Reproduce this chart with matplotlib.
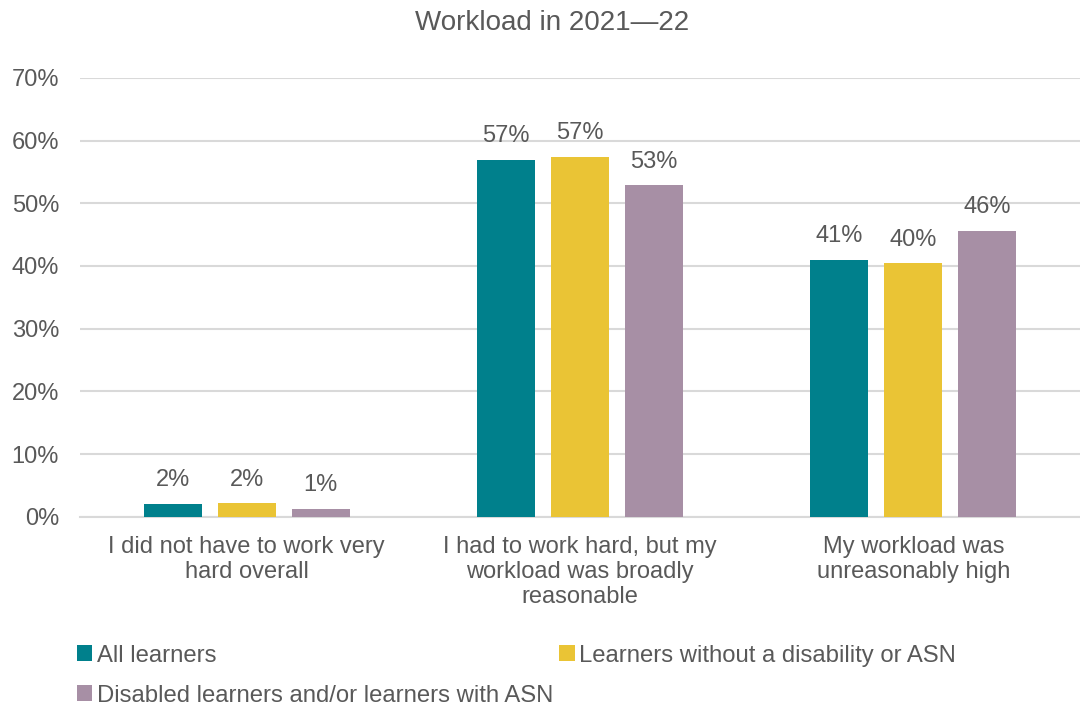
import matplotlib
matplotlib.use("Agg")
import matplotlib.pyplot as plt
import numpy as np

plt.rcParams['font.family'] = ['Liberation Sans', 'DejaVu Sans']

# categories and series (share of learners)
categories = ["I did not have to work very\nhard overall",
              "I had to work hard, but my\nworkload was broadly\nreasonable",
              "My workload was\nunreasonably high"]
series_names = ["All learners",
                "Learners without a disability or ASN",
                "Disabled learners and/or learners with ASN"]
all_learners = [0.021, 0.569, 0.410]
no_disability = [0.022, 0.574, 0.404]
disabled_asn = [0.013, 0.529, 0.456]
colors = ["#00808C", "#EAC435", "#A78FA5"]

txt = "#595959"
grid = "#D9D9D9"

fig = plt.figure(figsize=(10.8, 7.2), dpi=100)
ax = fig.add_axes([0.074, 0.282, 0.926, 0.61])

x = np.arange(len(categories))
w = 0.174
step = 0.222
handles = []
for i, (vals, name, c) in enumerate(zip([all_learners, no_disability, disabled_asn], series_names, colors)):
    b = ax.bar(x + (i - 1) * step, vals, width=w, color=c, label=name, zorder=3)
    handles.append(b)
    for rect, v in zip(b, vals):
        ax.annotate(f"{v*100:.0f}%", (rect.get_x() + rect.get_width() / 2, v),
                    xytext=(0, 9), textcoords="offset points",
                    ha="center", va="bottom", fontsize=17, color=txt)

ax.set_xlim(-0.5, 2.5)
ax.set_ylim(0, 0.7)
ticks = np.arange(0, 0.71, 0.1)
ax.set_yticks(ticks)
ax.set_yticklabels([f"{int(round(t*100))}%" for t in ticks])
ax.yaxis.grid(True, color=grid, linewidth=1.5, zorder=0)
ax.set_axisbelow(True)
for s in ["top", "right", "left"]:
    ax.spines[s].set_visible(False)
ax.spines["bottom"].set_color(grid)
ax.spines["bottom"].set_linewidth(1.5)
ax.tick_params(axis="y", length=0, pad=15, labelsize=17, labelcolor=txt)
ax.tick_params(axis="x", length=0, pad=14, labelsize=17, labelcolor=txt)
ax.set_xticks(x)
ax.set_xticklabels(categories, linespacing=1.15, va="top")

fig.text(0.511, 0.968, "Workload in 2021\u201422", ha="center", va="center",
         fontsize=20, color=txt)

# row-major order in a 2-column legend
order = [0, 2, 1]
leg = fig.legend([handles[k] for k in order], [series_names[k] for k in order],
                 loc="upper left", bbox_to_anchor=(0.062, 0.118), ncol=2,
                 frameon=False, fontsize=17.2, handlelength=0.65, handleheight=0.65,
                 handletextpad=0.2, columnspacing=0.25, labelspacing=0.75,
                 borderaxespad=0)
for t in leg.get_texts():
    t.set_color(txt)

fig.savefig("out.png", dpi=100, facecolor="white")
